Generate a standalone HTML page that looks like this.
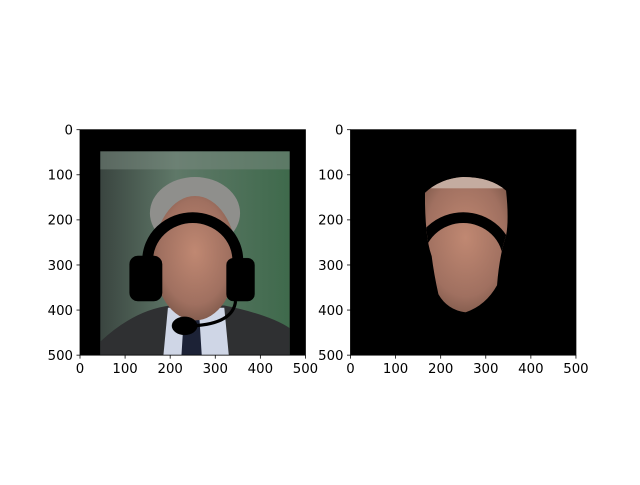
<!DOCTYPE html>
<html><head><meta charset="utf-8"><style>
html,body{margin:0;padding:0;background:#fff}
svg text{font-family:"DejaVu Sans","Liberation Sans",sans-serif;font-size:13.3px;fill:#000}
</style></head><body>
<svg id="fig" width="640" height="480" viewBox="0 0 640 480" xmlns="http://www.w3.org/2000/svg">
<defs>
<linearGradient id="bg" x1="0" y1="0" x2="1" y2="0">
<stop offset="0" stop-color="#3a4540"/><stop offset="0.4" stop-color="#5f7868"/><stop offset="1" stop-color="#3f6a4c"/></linearGradient>
<radialGradient id="skin" cx="0.5" cy="0.45" r="0.6">
<stop offset="0" stop-color="#c08872"/><stop offset="0.7" stop-color="#a07060"/><stop offset="1" stop-color="#7a5648"/></radialGradient>
<clipPath id="faceclip"><path d="M165,140 Q200,108 250,105 Q310,105 345,135 Q352,200 345,235 Q330,280 325,345 Q300,390 255,405 Q215,400 195,365 Q185,320 180,280 Q165,240 165,140Z"/></clipPath>
</defs>

<g transform="translate(80,129.7) scale(0.4509)">
<rect x="0" y="0" width="500" height="500" fill="#000"/>
<rect x="45" y="48" width="420" height="452" fill="url(#bg)"/>
<rect x="45" y="48" width="420" height="40" fill="#7a8a80" opacity="0.5"/>
<path d="M45,470 Q120,400 200,390 L320,390 Q420,410 465,440 L465,500 L45,500Z" fill="#2f3032"/>
<path d="M195,395 L320,395 L330,500 L185,500Z" fill="#cfd6e6"/>
<path d="M230,420 L265,420 L270,500 L225,500Z" fill="#1c2236"/>
<ellipse cx="255" cy="185" rx="100" ry="80" fill="#8f8f8c"/>
<ellipse cx="255" cy="285" rx="92" ry="138" fill="url(#skin)"/>
<g fill="#000" stroke="#000">
<path d="M150,290 A100,95 0 0 1 350,290" fill="none" stroke-width="24"/>
<rect x="110" y="280" width="72" height="100" rx="18"/>
<rect x="325" y="285" width="62" height="95" rx="15"/>
<path d="M345,380 Q340,430 250,435" fill="none" stroke-width="7"/>
<ellipse cx="232" cy="435" rx="28" ry="20"/>
</g>
</g>

<g transform="translate(350.5,129.7) scale(0.4509)">
<rect x="0" y="0" width="500" height="500" fill="#000"/>
<g clip-path="url(#faceclip)">
<rect x="150" y="100" width="210" height="310" fill="url(#skin)"/>
<rect x="150" y="100" width="210" height="30" fill="#c4aca0"/>
<path d="M150,290 A100,95 0 0 1 350,290" fill="none" stroke="#000" stroke-width="24"/>
</g>
</g>

<g id="axes" stroke="#000" stroke-width="0.8" fill="none">
<rect x="80" y="129.7" width="225.45" height="225.45"/>
<rect x="350.5" y="129.7" width="225.45" height="225.45"/>
</g>
<g id="ticks"></g>
</svg>
<script>
const tickValues = [0, 100, 200, 300, 400, 500];
const panels = [{name:'left', x0:80}, {name:'right', x0:350.5}];
const y0 = 129.7, size = 225.45, maxVal = 500;
const ns = 'http://www.w3.org/2000/svg';
const g = document.getElementById('ticks');
function sx(x0, v){ return x0 + v / maxVal * size; }
function sy(v){ return y0 + v / maxVal * size; }
panels.forEach(p => {
  tickValues.forEach(v => {
    const x = sx(p.x0, v);
    const l = document.createElementNS(ns, 'line');
    l.setAttribute('x1', x); l.setAttribute('x2', x);
    l.setAttribute('y1', y0 + size); l.setAttribute('y2', y0 + size + 3.5);
    l.setAttribute('stroke', '#000'); l.setAttribute('stroke-width', '0.8');
    
    
    g.appendChild(l);
    const t = document.createElementNS(ns, 'text');
    t.setAttribute('x', x); t.setAttribute('y', y0 + size + 18);
    t.setAttribute('text-anchor', 'middle');
    t.textContent = v;
    
    
    g.appendChild(t);
    const y = sy(v);
    const l2 = document.createElementNS(ns, 'line');
    l2.setAttribute('x1', p.x0 - 3.5); l2.setAttribute('x2', p.x0);
    l2.setAttribute('y1', y); l2.setAttribute('y2', y);
    l2.setAttribute('stroke', '#000'); l2.setAttribute('stroke-width', '0.8');
    
    
    g.appendChild(l2);
    const t2 = document.createElementNS(ns, 'text');
    t2.setAttribute('x', p.x0 - 7); t2.setAttribute('y', y + 4.8);
    t2.setAttribute('text-anchor', 'end');
    t2.textContent = v;
    
    
    g.appendChild(t2);
  });
});
</script>
</body></html>
